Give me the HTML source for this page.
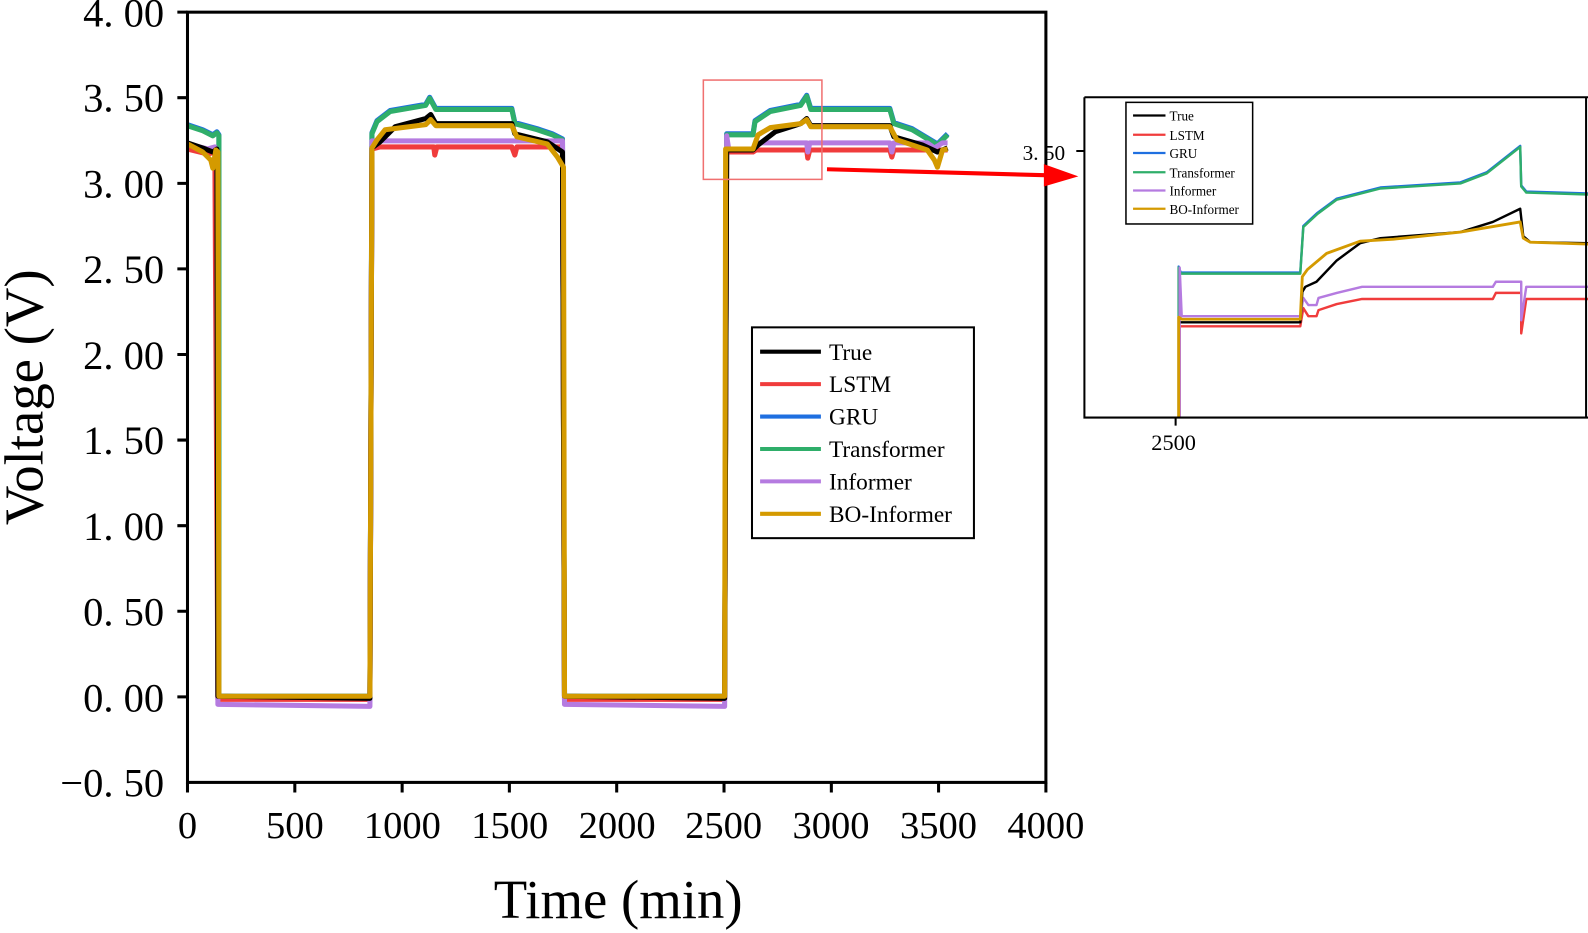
<!DOCTYPE html>
<html><head><meta charset="utf-8"><style>
html,body{margin:0;padding:0;background:#fff;}
svg{display:block;}
text{font-family:"Liberation Serif",serif;fill:#000;}
</style></head><body>
<svg width="1588" height="933" viewBox="0 0 1566.9 920.6" preserveAspectRatio="none" xmlns="http://www.w3.org/2000/svg">
<defs><clipPath id="ic"><rect x="1070" y="96" width="497" height="316"/></clipPath></defs>
<g fill="none" stroke-linejoin="round" stroke-width="5">
<path stroke="#1f6fe0" d="M185,123 L200,128 L210,133 L214,130 L216,133 L216,687 L365,687 L367,131 L372,119 L385,109 L420,103 L424,96 L430,107 L505,107 L508,121 L530,127 L545,132 L555,137 L557,687 L715,687 L717,132 L743,132 L745,119 L760,109 L790,103 L796,94 L800,107 L878,107 L882,121 L900,127 L925,142 L935,132"/>
<path stroke="#2fae6a" d="M185,124 L200,129 L210,134 L214,131 L216,134 L216,687 L365,687 L367,132 L372,120 L385,110 L420,104 L424,97 L430,108 L505,108 L508,122 L530,128 L545,133 L555,138 L557,687 L715,687 L717,133 L743,133 L745,120 L760,110 L790,104 L796,95 L800,108 L878,108 L882,122 L900,128 L925,143 L935,133"/>
<path stroke="#f03c3c" d="M185,147 L205,152 L212,150 L215,690 L365,690 L367,147 L375,145 L428,145 L429,153 L431,145 L505,145 L508,153 L510,145 L555,145 L557,690 L715,690 L717,150 L743,150 L746,148 L796,148 L797,156 L799,148 L878,148 L880,155 L882,148 L935,148"/>
<path stroke="#b57be0" d="M185,142 L205,147 L212,145 L214,148 L215,695 L365,697 L367,139 L380,139 L555,139 L557,695 L715,697 L717,134 L719,147 L743,147 L746,141 L796,141 L797,150 L799,141 L878,141 L880,150 L882,141 L915,141 L922,146 L930,141 L935,141"/>
<path stroke="#000" d="M185,141 L200,146 L210,150 L214,147 L215,687 L365,689 L367,146 L375,140 L390,125 L420,117 L425,113 L430,122 L505,122 L508,132 L540,140 L555,150 L557,687 L715,689 L717,148 L743,148 L748,143 L765,130 L790,122 L796,117 L800,124 L878,124 L882,135 L910,143 L925,150 L935,146"/>
<path stroke="#d49a00" d="M185,142 L200,150 L208,158 L210,166 L213,148 L215,150 L216,687 L365,687 L367,146 L372,138 L380,128 L420,123 L425,118 L430,124 L505,124 L510,135 L540,142 L550,155 L556,165 L557,687 L715,687 L716,147 L743,147 L748,133 L760,126 L790,122 L796,118 L800,125 L878,125 L885,138 L915,148 L922,158 L925,165 L930,148 L935,147"/>
</g>
<g stroke="#000" stroke-width="3" fill="none">
<rect x="185" y="12" width="847" height="760"/>
<path d="M175,12H185M175,96.4H185M175,180.9H185M175,265.3H185M175,349.8H185M175,434.2H185M175,518.7H185M175,603.1H185M175,687.6H185"/>
<path d="M185,772V782M290.9,772V782M396.8,772V782M502.6,772V782M608.5,772V782M714.4,772V782M820.3,772V782M926.1,772V782M1032,772V782"/>
</g>
<g font-size="40" text-anchor="end">
<text x="162" y="26">4. 00</text><text x="162" y="110">3. 50</text><text x="162" y="195">3. 00</text><text x="162" y="279">2. 50</text><text x="162" y="364">2. 00</text><text x="162" y="448">1. 50</text><text x="162" y="533">1. 00</text><text x="162" y="617">0. 50</text><text x="162" y="702">0. 00</text><text x="162" y="786">−0. 50</text>
</g>
<g font-size="38" text-anchor="middle">
<text x="185" y="827">0</text><text x="291" y="827">500</text><text x="397" y="827">1000</text><text x="503" y="827">1500</text><text x="609" y="827">2000</text><text x="714" y="827">2500</text><text x="820" y="827">3000</text><text x="926" y="827">3500</text><text x="1032" y="827">4000</text>
</g>
<text x="610" y="906" font-size="54" text-anchor="middle">Time (min)</text>
<text transform="translate(42,392) rotate(-90)" font-size="54" text-anchor="middle">Voltage (V)</text>
<rect x="742" y="323" width="219" height="208" fill="#fff" stroke="#000" stroke-width="2"/>
<g stroke-width="4">
<line x1="750" y1="347" x2="810" y2="347" stroke="#000"/>
<line x1="750" y1="379" x2="810" y2="379" stroke="#f03c3c"/>
<line x1="750" y1="411" x2="810" y2="411" stroke="#1f6fe0"/>
<line x1="750" y1="443" x2="810" y2="443" stroke="#2fae6a"/>
<line x1="750" y1="475" x2="810" y2="475" stroke="#b57be0"/>
<line x1="750" y1="507" x2="810" y2="507" stroke="#d49a00"/>
</g>
<g font-size="23">
<text x="818" y="355">True</text><text x="818" y="387">LSTM</text><text x="818" y="419">GRU</text><text x="818" y="451">Transformer</text><text x="818" y="483">Informer</text><text x="818" y="515">BO-Informer</text>
</g>
<rect x="694" y="79" width="117" height="98" fill="none" stroke="#f07070" stroke-width="1.5"/>
<line x1="816" y1="167" x2="1035" y2="173" stroke="#f00" stroke-width="4"/>
<polygon points="1030,162 1064,174 1030,184" fill="#f00"/>
<g clip-path="url(#ic)" fill="none" stroke-linejoin="round" stroke-width="2.4">
<path stroke="#1f6fe0" d="M1163,412 L1163,263 L1165,269 L1283,269 L1286,223 L1300,210 L1319,196 L1362,185 L1441,180 L1467,170 L1500,144 L1501,183 L1506,189 L1570,191"/>
<path stroke="#2fae6a" d="M1163,412 L1163,264 L1165,270 L1283,270 L1286,224 L1300,211 L1319,197 L1362,186 L1441,181 L1467,171 L1500,145 L1501,184 L1506,190 L1570,192"/>
<path stroke="#f03c3c" d="M1164,412 L1164,322 L1283,322 L1286,304 L1291,312 L1299,312 L1301,306 L1319,300 L1344,295 L1473,295 L1476,289 L1501,289 L1501,329 L1506,295 L1570,295"/>
<path stroke="#b57be0" d="M1164,412 L1164,264 L1166,312 L1283,312 L1286,294 L1291,301 L1299,301 L1301,294 L1319,289 L1344,283 L1473,283 L1476,278 L1501,278 L1501,316 L1506,283 L1570,283"/>
<path stroke="#000" d="M1165,318 L1283,318 L1285,288 L1288,283 L1299,278 L1319,257 L1342,240 L1362,235 L1441,229 L1473,219 L1500,206 L1503,233 L1510,239 L1570,240"/>
<path stroke="#d49a00" stroke-width="2.8" d="M1163,412 L1163,313 L1166,315 L1283,315 L1285,273 L1290,266 L1309,250 L1342,238 L1375,236 L1441,229 L1500,219 L1503,235 L1510,239 L1570,241"/>
</g>
<g stroke="#000" stroke-width="2" fill="none">
<path d="M1070,96 H1580 M1070,96 V412 H1580 M1565,96 V412"/>
<path d="M1062,149H1070 M1160,412V420"/>
</g>
<text x="1009" y="158" font-size="21">3. 50</text>
<text x="1158" y="444" font-size="22" text-anchor="middle">2500</text>
<rect x="1111" y="101" width="125" height="120" fill="#fff" stroke="#000" stroke-width="1.5"/>
<g stroke-width="2.2">
<line x1="1118" y1="114" x2="1150" y2="114" stroke="#000"/>
<line x1="1118" y1="133" x2="1150" y2="133" stroke="#f03c3c"/>
<line x1="1118" y1="151" x2="1150" y2="151" stroke="#1f6fe0"/>
<line x1="1118" y1="170" x2="1150" y2="170" stroke="#2fae6a"/>
<line x1="1118" y1="188" x2="1150" y2="188" stroke="#b57be0"/>
<line x1="1118" y1="206" x2="1150" y2="206" stroke="#d49a00"/>
</g>
<g font-size="13">
<text x="1154" y="119">True</text><text x="1154" y="138">LSTM</text><text x="1154" y="156">GRU</text><text x="1154" y="175">Transformer</text><text x="1154" y="193">Informer</text><text x="1154" y="211">BO-Informer</text>
</g>
</svg>
</body></html>
